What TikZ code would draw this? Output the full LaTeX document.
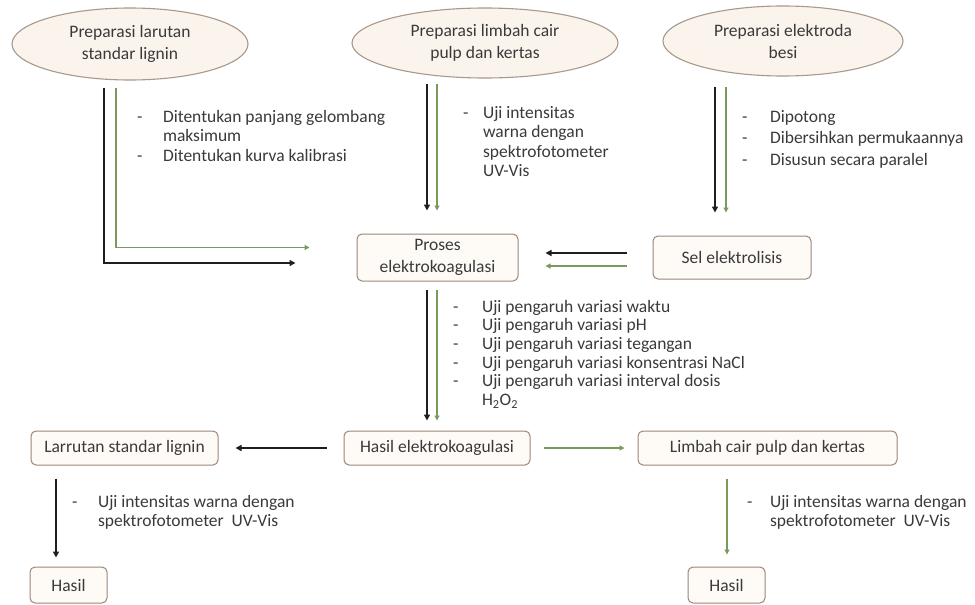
\documentclass[tikz,border=0pt]{standalone}
\usepackage{fontspec}
\setmainfont{Carlito}
\usetikzlibrary{arrows.meta,calc,shapes.geometric}
\definecolor{txtc}{HTML}{3A3A3A}
\definecolor{ellfill}{HTML}{FBF4EC}
\definecolor{elldraw}{HTML}{A8998C}
\definecolor{boxfill}{HTML}{FEFBF7}
\definecolor{boxdraw}{HTML}{9C8579}
\definecolor{grn}{HTML}{7A9A5C}
\definecolor{blkc}{HTML}{1E1E1E}
\newcommand{\annot}[2]{\begin{tabular}[t]{@{}l@{\hspace{#1pt}}l@{}}#2\end{tabular}}
\begin{document}
\begin{tikzpicture}[x=1pt,y=-1pt,
  every node/.style={font=\fontsize{17.5}{19.5}\selectfont, text=txtc},
  prepell/.style={ellipse, draw=elldraw, fill=ellfill, line width=1.1pt, align=center, inner sep=0pt, font=\fontsize{17.5}{22}\selectfont},
  procbox/.style={rectangle, rounded corners=5pt, draw=boxdraw, fill=boxfill, line width=1pt, align=center, inner sep=0pt, font=\fontsize{17.5}{22.5}\selectfont},
  annotxt/.style={anchor=base west, inner sep=0pt, align=left},
  blkarrow/.style={draw=blkc, line width=1.8pt, -{Triangle[length=6pt,width=6pt]}},
  grnarrow/.style={draw=grn, line width=1.2pt, -{Triangle[length=5pt,width=5pt]}}
]
\useasboundingbox (0,0) rectangle (975,605);
\fill[white] (0,0) rectangle (975,605);

% top ellipses
\node[prepell, minimum width=236pt, minimum height=72pt] (e1) at (130,44) {Preparasi larutan\\standar lignin};
\node[prepell, minimum width=266pt, minimum height=70pt] (e2) at (485,43) {Preparasi limbah cair\\pulp dan kertas};
\node[prepell, minimum width=240pt, minimum height=70pt] (e3) at (783,41) {Preparasi elektroda\\besi};

% process boxes
\node[procbox, minimum width=161pt, minimum height=47pt] (proses) at (437.5,257.5) {Proses\\elektrokoagulasi};
\node[procbox, minimum width=158pt, minimum height=43pt] (sel) at (732,257.5) {Sel elektrolisis};
\node[procbox, minimum width=186pt, minimum height=34pt] (hasilek) at (437,448) {Hasil elektrokoagulasi};
\node[procbox, minimum width=187pt, minimum height=34pt] (larrutan) at (124.5,448) {Larrutan standar lignin};
\node[procbox, minimum width=259pt, minimum height=34pt] (limbah) at (767.5,448) {Limbah cair pulp dan kertas};
\node[procbox, minimum width=77pt, minimum height=36pt] (hasil1) at (68.5,585) {Hasil};
\node[procbox, minimum width=77pt, minimum height=36pt] (hasil2) at (726.5,585) {Hasil};

% annotations
\node[annotxt] (a1) at (137,122) {\annot{20.5}{- & Ditentukan panjang gelombang\\ & maksimum\\- & Ditentukan kurva kalibrasi}};
\node[annotxt] (a2) at (463,118) {\annot{14.5}{- & Uji intensitas\\ & warna dengan\\ & spektrofotometer\\ & UV-Vis}};
\node[annotxt] (a3) at (742,122) {\fontsize{17.5}{21.5}\selectfont\annot{22.5}{- & Dipotong\\- & Dibersihkan permukaannya\\- & Disusun secara paralel}};
\node[annotxt] (a4) at (453,312) {\fontsize{17.5}{18.7}\selectfont\annot{23.5}{- & Uji pengaruh variasi waktu\\- & Uji pengaruh variasi pH\\- & Uji pengaruh variasi tegangan\\- & Uji pengaruh variasi konsentrasi NaCl\\- & Uji pengaruh variasi interval dosis\\ & H\textsubscript{2}O\textsubscript{2}}};
\node[annotxt] (a5) at (72,507) {\annot{20.5}{- & Uji intensitas warna dengan\\ & spektrofotometer\ \ UV-Vis}};
\node[annotxt] (a6) at (747,507) {\annot{17.5}{- & Uji intensitas warna dengan\\ & spektrofotometer\ \ UV-Vis}};

% connectors
\draw[blkarrow] ($(e1.south)+(-26,7)$) |- ($(proses.west)+(-61,5.5)$);
\draw[grnarrow] ($(e1.south)+(-14,7)$) |- ($(proses.west)+(-47,-10)$);

\draw[blkarrow] ($(e2.south)+(-58,5)$) -- ($(proses.north)+(-10.5,-23)$);
\draw[grnarrow] ($(e2.south)+(-48,5)$) -- ($(proses.north)+(-0.5,-23)$);

\draw[blkarrow] ($(e3.south)+(-68,10)$) -- ($(sel.north)+(-17,-23)$);
\draw[grnarrow] ($(e3.south)+(-57,10)$) -- ($(sel.north)+(-6,-23)$);

\draw[blkarrow] ($(sel.west)+(-26,-4.5)$) -- ($(proses.east)+(27,-4.5)$);
\draw[grnarrow] ($(sel.west)+(-26,8.5)$) -- ($(proses.east)+(27,8.5)$);

\draw[blkarrow] ($(proses.south)+(-10.5,8)$) -- ($(hasilek.north)+(-10,-10)$);
\draw[grnarrow] ($(proses.south)+(-0.5,8)$) -- ($(hasilek.north)+(0,-10)$);

\draw[blkarrow, line width=1.5pt] ($(hasilek.west)+(-17,0)$) -- ($(larrutan.east)+(17,0)$);
\draw[grnarrow] ($(hasilek.east)+(13,0)$) -- ($(limbah.west)+(-13,0)$);

\draw[blkarrow, line width=1.5pt] ($(larrutan.south)+(-68.5,13)$) -- ($(hasil1.north)+(-12.5,-9)$);
\draw[grnarrow] ($(limbah.south)+(-40.5,13)$) -- ($(hasil2.north)+(0.5,-12)$);
\end{tikzpicture}
\end{document}
